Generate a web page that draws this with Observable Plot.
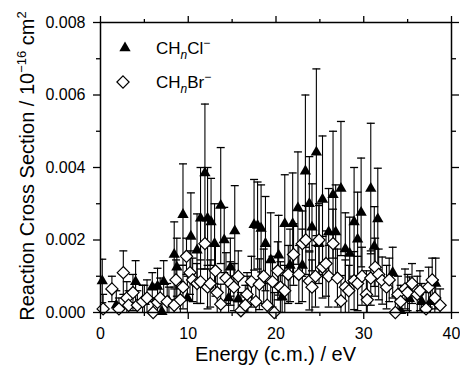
<!DOCTYPE html>
<html><head><meta charset="utf-8">
<script src="https://cdn.jsdelivr.net/npm/d3@7"></script>
<script src="https://cdn.jsdelivr.net/npm/@observablehq/plot@0.6"></script>
<style>
body{margin:0;background:#fff}
svg{font-family:"Liberation Sans",Arial,Helvetica,sans-serif}
</style>
</head><body><div id="chart"></div>
<script>
// CH_nCl^- : energy (eV), cross section, error
const clEnergy = [0.2,1.8,4.0,5.0,5.9,6.5,7.0,7.2,7.8,8.4,8.7,9.4,9.9,10.3,11.0,11.4,11.9,12.2,12.6,13.0,13.7,14.1,14.6,14.8,15.3,15.7,16.8,17.5,17.9,18.3,18.8,19.4,20.3,20.7,21.0,21.6,21.9,22.5,23.0,23.35,23.8,24.1,24.6,24.9,25.3,26.0,26.5,26.8,27.4,27.9,28.4,28.9,29.3,29.7,30.8,31.2,31.6,33.3,34.2,35.2,36.6,37.6,38.2];
const clSigma = [0.00087,0.0002,0.00085,0.0003,0.0007,0.00072,0.00002,0.00085,0.0003,0.0016,0.00125,0.0027,0.0004,0.0021,0.00172,0.0026,0.00385,0.0026,0.0025,0.0019,0.00295,0.002,0.0004,0.00125,0.00225,0.00037,0.0005,0.00242,0.0024,0.00232,0.0019,0.00145,0.00158,0.00042,0.00245,0.0013,0.00245,0.00288,0.0013,0.0039,0.003,0.00235,0.00442,0.0019,0.00312,0.00222,0.00325,0.00222,0.00342,0.00175,0.00163,0.0025,0.00202,0.00276,0.00342,0.00182,0.00258,0.0011,0.00005,0.00038,0.0003,0.0003,0.0008];
const clErr = [0.0006,0.0004,0.00058,0.00045,0.0004,0.0005,0.0004,0.00058,0.0004,0.0009,0.0008,0.0014,0.0006,0.0012,0.001,0.0014,0.0019,0.0014,0.0012,0.0011,0.0016,0.0009,0.0006,0.0008,0.00125,0.0006,0.0005,0.00125,0.0012,0.0012,0.0013,0.0013,0.0011,0.0006,0.00135,0.001,0.0014,0.00155,0.001,0.0021,0.0013,0.0012,0.0023,0.0011,0.00175,0.0012,0.00175,0.0013,0.00185,0.001,0.001,0.0015,0.0013,0.0015,0.0018,0.0011,0.0014,0.0007,0.0005,0.0006,0.0005,0.0006,0.0007];

// CH_nBr^- : energy (eV), cross section, error
const brEnergy = [0.3,1.3,2.1,2.6,3.0,3.2,3.7,4.2,4.8,5.3,6.0,6.5,6.8,7.6,8.4,8.6,9.1,9.4,9.8,10.2,10.5,11.0,11.4,11.9,12.2,12.5,13.1,13.3,13.7,14.3,14.8,15.2,15.7,16.0,16.5,16.7,17.2,17.7,18.1,18.6,19.0,19.6,19.8,20.2,20.5,21.0,21.4,22.0,22.6,23.0,23.4,23.8,24.1,24.5,24.9,25.3,25.7,26.0,26.5,27.0,27.4,27.9,28.3,28.9,29.3,29.8,30.3,30.4,30.8,31.3,31.7,32.1,32.6,32.9,33.6,33.9,34.2,34.7,35.0,35.5,36.1,36.4,37.1,37.4,37.8,38.1,38.7];
const brSigma = [0.0001,0.00065,0.0001,0.0011,0.0004,0.0002,0.00055,0.0002,0.0003,0.0004,0.0,0.00028,0.0004,0.0003,0.0002,0.0009,0.00035,0.0007,0.00155,0.0011,0.0009,0.0008,0.00085,0.0019,0.0007,0.0008,0.00115,0.00055,0.00023,0.00095,0.0008,0.0007,0.001,0.00005,0.0002,0.0005,0.00085,0.0003,0.00078,0.001,0.0002,0.00085,0.0,0.00115,0.0007,0.0006,0.00105,0.0016,0.00105,0.0019,0.002,0.00087,0.0007,0.001,0.002,0.00125,0.00135,0.001,0.0019,0.00095,0.00032,0.0007,0.0006,0.00088,0.0008,0.001,0.0005,0.00035,0.00095,0.00125,0.00105,0.00088,0.0007,0.0009,0.0,0.0005,0.0003,0.00065,0.00055,0.0008,0.0005,0.0006,0.0001,0.0007,0.0009,0.0004,0.0002];
const brErr = [0.0004,0.00035,0.0003,0.0006,0.00045,0.0004,0.0005,0.0004,0.00045,0.0005,0.0004,0.0005,0.00055,0.0005,0.00045,0.00055,0.0005,0.0006,0.0005,0.0006,0.0006,0.00055,0.0006,0.0007,0.0006,0.00065,0.0007,0.0006,0.00055,0.0007,0.0006,0.00065,0.0007,0.0005,0.00055,0.0006,0.0007,0.0006,0.0007,0.00075,0.0006,0.0007,0.00055,0.0008,0.0007,0.0007,0.0008,0.00085,0.0008,0.0009,0.00095,0.0008,0.00075,0.00085,0.00095,0.00085,0.0009,0.00085,0.00095,0.0008,0.0007,0.00075,0.0007,0.0008,0.00075,0.0008,0.00065,0.0006,0.00075,0.0008,0.0007,0.00065,0.0006,0.0006,0.00045,0.0005,0.00045,0.00055,0.0005,0.00055,0.0005,0.00055,0.00045,0.00055,0.0006,0.0005,0.00045];

const xMajor = [0, 10, 20, 30, 40];
const xMinor = [5, 15, 25, 35];
const yMajor = [0, 0.002, 0.004, 0.006, 0.008];
const yMinor = [0.001, 0.003, 0.005, 0.007];

const toRows = (xs, ys, es) => xs.map((x, i) => ({x, y: ys[i], lo: ys[i] - es[i], hi: ys[i] + es[i]}));
const cl = toRows(clEnergy, clSigma, clErr);
const br = toRows(brEnergy, brSigma, brErr);

const cap = {draw(ctx, size) { const r = Math.sqrt(size / Math.PI); ctx.moveTo(-r, 0); ctx.lineTo(r, 0); }};
const blank = () => "";
const bars = (rows) => [
  Plot.ruleX(rows, {x: "x", y1: "lo", y2: "hi", stroke: "#000", strokeWidth: 1.1, clip: true}),
  Plot.dot(rows, {x: "x", y: "hi", symbol: cap, r: 4, stroke: "#000", strokeWidth: 1.3, fill: "none", clip: true}),
  Plot.dot(rows, {x: "x", y: "lo", symbol: cap, r: 4, stroke: "#000", strokeWidth: 1.3, fill: "none", clip: true})
];

const svg = Plot.plot({
  width: 460, height: 367,
  marginLeft: 100, marginRight: 9, marginTop: 22, marginBottom: 55,
  style: {fontFamily: '"Liberation Sans", Arial, sans-serif', fontSize: "16px", color: "#000", background: "#fff"},
  x: {domain: [0, 40]},
  y: {domain: [0, 0.008]},
  marks: [
    ...bars(cl),
    ...bars(br),
    Plot.dot(cl, {x: "x", y: "y", symbol: "triangle", r: 4.2, fill: "#000", stroke: "none"}),
    Plot.dot(br, {x: "x", y: "y", symbol: "diamond2", r: 5.5, fill: "#fff", stroke: "#000", strokeWidth: 1.2}),
    Plot.axisX(xMajor, {anchor: "bottom", tickSize: 7, tickPadding: 8, strokeWidth: 1.3, fontSize: 16, label: null, tickFormat: d => String(d)}),
    Plot.axisX(xMinor, {anchor: "bottom", tickSize: 4, strokeWidth: 1.3, label: null, tickFormat: blank}),
    Plot.axisX(xMajor, {anchor: "top", tickSize: 7, strokeWidth: 1.3, label: null, tickFormat: blank}),
    Plot.axisX(xMinor, {anchor: "top", tickSize: 4, strokeWidth: 1.3, label: null, tickFormat: blank}),
    Plot.axisY(yMajor, {anchor: "left", tickSize: 7, tickPadding: 8, strokeWidth: 1.3, fontSize: 16, label: null, tickFormat: d3.format(".3f")}),
    Plot.axisY(yMinor, {anchor: "left", tickSize: 4, strokeWidth: 1.3, label: null, tickFormat: blank}),
    Plot.axisY(yMajor, {anchor: "right", tickSize: 7, strokeWidth: 1.3, label: null, tickFormat: blank}),
    Plot.axisY(yMinor, {anchor: "right", tickSize: 4, strokeWidth: 1.3, label: null, tickFormat: blank}),
    Plot.frame({stroke: "#000", strokeWidth: 1.5})
  ]
});

const s = d3.select(svg);
// x axis title
s.append("text").attr("x", 275.5).attr("y", 361).attr("text-anchor", "middle")
  .attr("font-size", 20).attr("fill", "#000").text("Energy (c.m.) / eV");
// y axis title with superscripts
const yt = s.append("text").attr("transform", "translate(34,166) rotate(-90)")
  .attr("text-anchor", "middle").attr("font-size", 20).attr("fill", "#000");
yt.append("tspan").text("Reaction Cross Section / 10");
yt.append("tspan").attr("font-size", 13).attr("dy", -8).text("\u221216");
yt.append("tspan").attr("dy", 8).text(" cm");
yt.append("tspan").attr("font-size", 13).attr("dy", -8).text("2");

// legend
const legendItems = [
  {sym: d3.symbolTriangle, size: 4.2 * 4.2 * Math.PI, fill: "#000", stroke: "none", cx: 125, cy: 48, base: "Cl", ty: 54},
  {sym: d3.symbolDiamond2, size: 5.5 * 5.5 * Math.PI, fill: "#fff", stroke: "#000", cx: 123, cy: 82, base: "Br", ty: 88}
];
for (const it of legendItems) {
  s.append("path").attr("d", d3.symbol(it.sym, it.size)()).attr("transform", `translate(${it.cx},${it.cy})`)
    .attr("fill", it.fill).attr("stroke", it.stroke).attr("stroke-width", 1.2);
  const t = s.append("text").attr("x", 156).attr("y", it.ty).attr("text-anchor", "start")
    .attr("font-size", 17).attr("fill", "#000");
  t.append("tspan").text("CH");
  t.append("tspan").attr("font-size", 12).attr("font-style", "italic").attr("dy", 5).text("n");
  t.append("tspan").attr("dy", -5).text(it.base);
  t.append("tspan").attr("font-size", 12).attr("dy", -7).text("\u2212");
}

document.getElementById("chart").appendChild(svg);
</script>
</body></html>
